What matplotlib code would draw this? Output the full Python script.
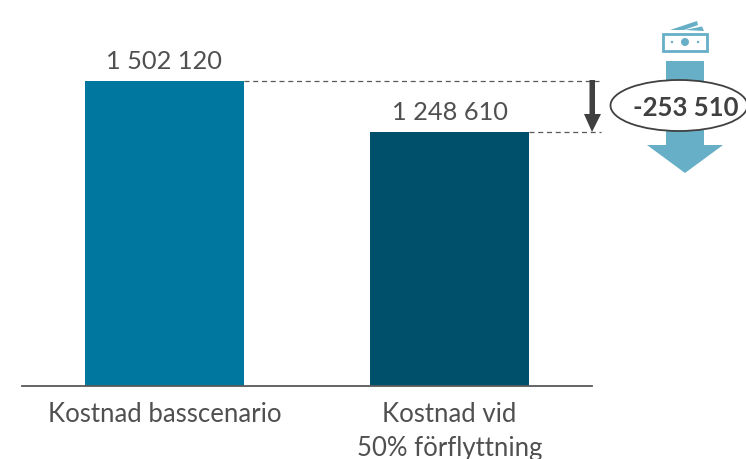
import matplotlib.pyplot as plt
from matplotlib.patches import Ellipse, Polygon, Rectangle, Circle

plt.rcParams['font.family'] = ['Lato', 'DejaVu Sans']

# ==========================[Data]=============================

labels = ['Kostnad basscenario', 'Kostnad vid\n50% förflyttning']
costs = [1502120, 1248610]
diff_label = '-253 510'

W = 746
H = 460
bar_colors = ['#00779F', '#00506B']
arrow_color = '#67AFC7'
text_color = '#505050'
dark = '#404040'


def money(v):
    return '{:,}'.format(v).replace(',', ' ')


fig = plt.figure(figsize=(W / 100, H / 100), dpi=100)

# ==========================[Bars]=============================

base_y = 387
ax = fig.add_axes([22 / W, 1 - base_y / H, 570 / W, base_y / H])
ax.bar(range(len(costs)), costs, width=0.558, color=bar_colors)
ax.set_xlim(-0.5, 1.5)
ax.set_ylim(0, costs[0] * base_y / 305)
ax.set_xticks(range(len(labels)))
ax.set_xticklabels(labels, fontsize=18.5, color=text_color, linespacing=1.42)
ax.tick_params(axis='x', length=0, pad=11)
ax.set_yticks([])
for s in ['top', 'left', 'right']:
    ax.spines[s].set_visible(False)
ax.spines['bottom'].set_color('#595959')
ax.spines['bottom'].set_linewidth(1.3)
ax.patch.set_alpha(0)

for i, v in enumerate(costs):
    ax.text(i, v + 46000, money(v), ha='center', va='bottom', fontsize=18.3, color=text_color)

# dashed guides from each bar top to the drop arrow
ax.plot([0.279, 1.53], [costs[0], costs[0]], color='#595959', lw=0.9, ls=(0, (4, 3)), clip_on=False)
ax.plot([1.279, 1.53], [costs[1], costs[1]], color='#595959', lw=0.9, ls=(0, (4, 3)), clip_on=False)

# ==========================[Overlay in pixels]=============================

ov = fig.add_axes([0, 0, 1, 1])
ov.set_xlim(0, W)
ov.set_ylim(H, 0)
ov.axis('off')
ov.patch.set_alpha(0)

# small dark arrow between the two bars
ov.add_patch(Polygon([(589.5, 81), (595, 81), (595, 115), (601, 115), (592, 133),
                      (584, 115), (589.5, 115)], closed=True, fc=dark, ec='none'))

# big arrow behind the ellipse
ov.add_patch(Polygon([(666, 62), (704, 62), (704, 146), (723, 146), (685, 174),
                      (647, 146), (666, 146)], closed=True, fc=arrow_color, ec='none'))

ov.add_patch(Ellipse((679, 106.5), 137, 51, fc='white', ec=dark, lw=1.3, clip_on=False))
ov.text(686, 108, diff_label, ha='center', va='center', fontsize=18.5, fontweight='bold', color=dark)

# banknote icon
ov.add_patch(Polygon([(670, 31), (697, 22), (698, 26), (684, 31)], closed=True, fc=arrow_color, ec='none'))
ov.add_patch(Polygon([(685, 31), (702, 27.5), (704, 32)], closed=True, fc=arrow_color, ec='none'))
ov.add_patch(Rectangle((663, 35), 44, 16.5, fc='white', ec=arrow_color, lw=2))
ov.add_patch(Circle((685, 43), 4, fc=arrow_color, ec='none'))
ov.add_patch(Circle((672, 43), 1.2, fc=arrow_color, ec='none'))
ov.add_patch(Circle((698, 43), 1.2, fc=arrow_color, ec='none'))

plt.savefig('out.png', dpi=100)
